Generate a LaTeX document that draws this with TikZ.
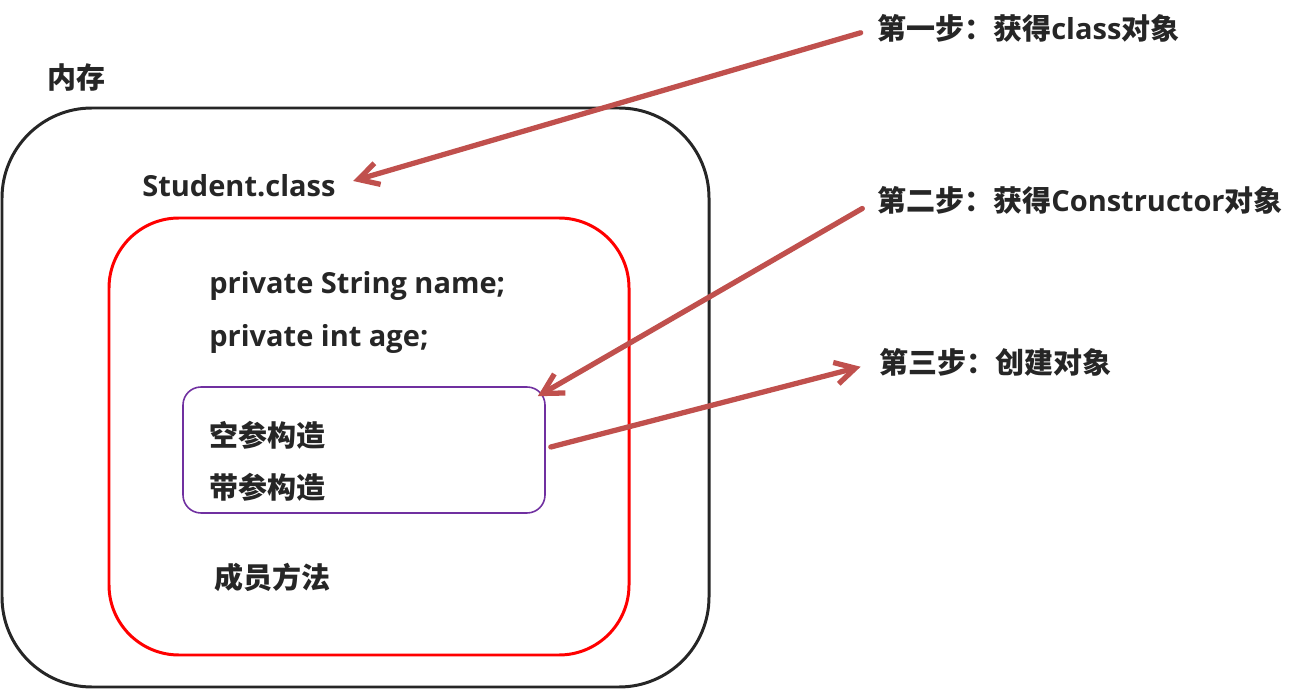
\documentclass[tikz,border=0pt]{standalone}
\usepackage{fontspec}
\setmainfont{Open Sans}
\newfontfamily\cjk{Noto Sans CJK SC}
\usepackage{tikz}
\usepackage{xcolor}
\usetikzlibrary{arrows.meta}
\definecolor{refink}{HTML}{262626}
\definecolor{refred}{HTML}{FF0000}
\definecolor{refpurple}{HTML}{7030A0}
\definecolor{refarrow}{HTML}{C0504D}
\tikzset{
  membox/.style  ={draw=refink, line width=1.7pt, rounded corners=1.8cm,
                   minimum width=14.14cm, minimum height=11.58cm, inner sep=0pt},
  clsbox/.style  ={draw=refred, line width=1.7pt, rounded corners=1.4cm,
                   minimum width=10.4cm, minimum height=8.74cm, inner sep=0pt},
  ctorbox/.style ={draw=refpurple, line width=0.9pt, rounded corners=0.36cm,
                   minimum width=7.24cm, minimum height=2.52cm, inner sep=0pt},
  txt/.style     ={anchor=west, inner sep=0pt, text=refink,
                   font=\fontsize{16.5}{20}\selectfont\bfseries},
  stepline/.style={-{Straight Barb[length=4mm,width=4.4mm]}, draw=refarrow,
                   line width=3pt, line cap=round, line join=round},
}
\begin{document}
\begin{tikzpicture}
  \useasboundingbox (0,0) rectangle (25.98,-13.78);

  % ---- the boxes ----------------------------------------------------------
  \node[membox]  (mem)  at (7.11,-7.95) {};
  \node[clsbox]  (cls)  at (7.38,-8.73) {};
  \node[ctorbox] (ctor) at (7.28,-9.0) {};

  % ---- texts inside -------------------------------------------------------
  \node[txt] (memlbl) at (0.94,-1.56) {\cjk 内存};
  \node[txt] (clsname) at (2.84,-3.72) {Student.class};
  \node[txt] (fname) at (4.18,-5.72) {private String name;};
  \node[txt] (fage)  at (4.18,-6.78) {private int age;};
  \node[txt] (cnone) at (4.18,-8.70) {\cjk 空参构造};
  \node[txt] (cargs) at (4.18,-9.74) {\cjk 带参构造};
  \node[txt] (meth)  at (4.28,-11.54) {\cjk 成员方法};

  % ---- the steps ----------------------------------------------------------
  \node[txt] (stepa) at (17.54,-0.56) {{\cjk 第一步：获得}class{\cjk 对象}};
  \node[txt] (stepb) at (17.54,-4.0) {{\cjk 第二步：获得}Constructor{\cjk 对象}};
  \node[txt] (stepc) at (17.58,-7.24) {\cjk 第三步：创建对象};

  \draw[stepline, shorten <=0.34cm, shorten >=0.36cm] (stepa.west) -- (clsname.east);
  \draw[stepline, shorten <=0.34cm] (stepb.west) -- ([shift={(-0.16,-0.2)}]ctor.north east);
  \draw[stepline, shorten >=0.38cm] ([shift={(0.1,0.06)}]ctor.east) -- (stepc.west);
\end{tikzpicture}
\end{document}
